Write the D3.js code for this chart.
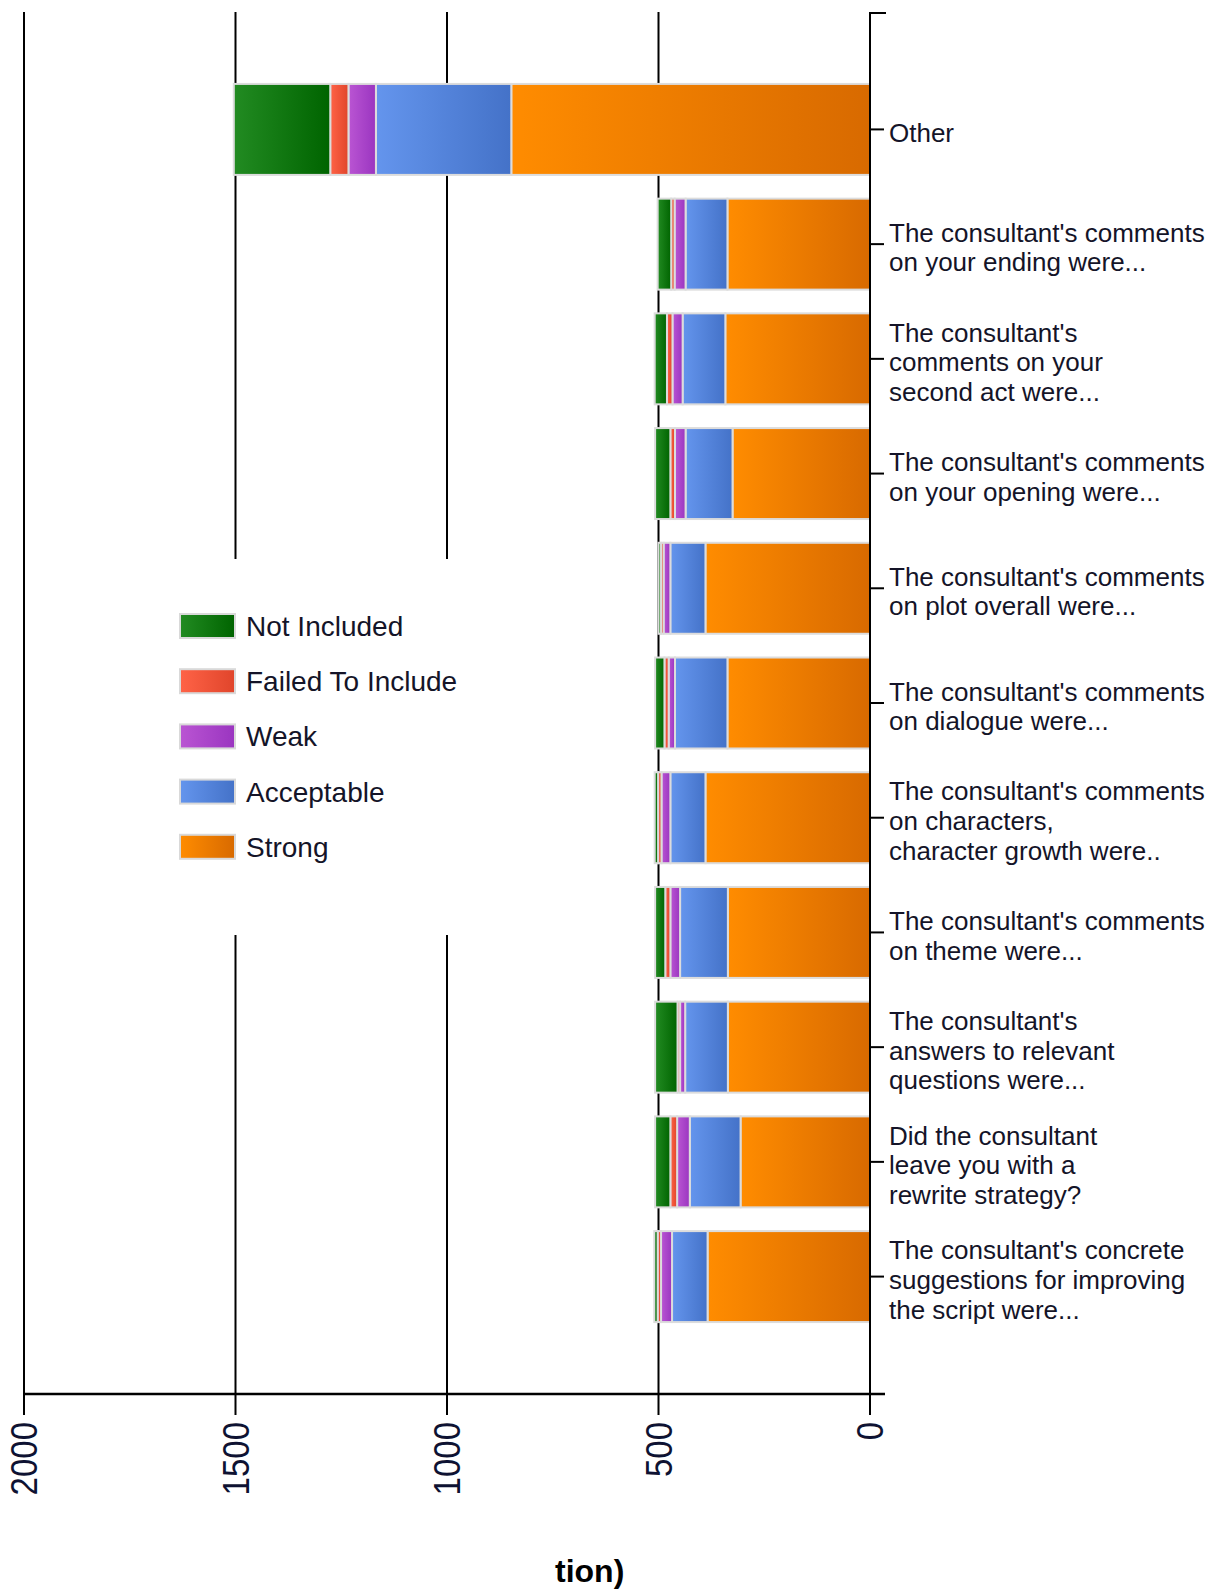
<!DOCTYPE html>
<html>
<head>
<meta charset="utf-8">
<script src="https://d3js.org/d3.v7.min.js"></script>
<style>
  html, body { margin: 0; padding: 0; background: #fff; overflow: hidden; }
  svg { display: block; }
</style>
</head>
<body>
<svg id="chart" width="1215" height="1592"></svg>
<script>
// Question labels, one entry per bar, split into the lines they wrap to
const labelLines = [
  ["Other"],
  ["The consultant's comments", "on your ending were..."],
  ["The consultant's", "comments on your", "second act were..."],
  ["The consultant's comments", "on your opening were..."],
  ["The consultant's comments", "on plot overall were..."],
  ["The consultant's comments", "on dialogue were..."],
  ["The consultant's comments", "on characters,", "character growth were.."],
  ["The consultant's comments", "on theme were..."],
  ["The consultant's", "answers to relevant", "questions were..."],
  ["Did the consultant", "leave you with a", "rewrite strategy?"],
  ["The consultant's concrete", "suggestions for improving", "the script were..."]
];
const categories = labelLines.map(l => l.join(" "));

// Response counts per rating
const seriesNames = ["Not Included", "Failed To Include", "Weak", "Acceptable", "Strong"];
const notIncluded = [228, 32, 29, 36, 6, 22, 8, 24, 53, 36, 8];
const failedToInclude = [43, 8, 13, 11, 6, 10, 8, 12, 6, 16, 8];
const weak = [65, 26, 24, 25, 16, 15, 21, 23, 12, 30, 26];
const acceptable = [320, 99, 101, 111, 83, 124, 83, 113, 101, 120, 84];
const strong = [848, 337, 342, 325, 389, 337, 389, 336, 336, 306, 384];

const xTickValues = [0, 500, 1000, 1500, 2000];
const titleTail = "tion)";

// Gradient stops (light -> dark) for each rating
const seriesColors = {
  "Not Included": ["#228B22", "#006400"],
  "Failed To Include": ["#FF6347", "#E0452B"],
  "Weak": ["#BA55D3", "#9A35C0"],
  "Acceptable": ["#6495ED", "#4472C8"],
  "Strong": ["#FF8C00", "#D86A00"]
};

const rows = categories.map((c, i) => ({
  category: c,
  "Not Included": notIncluded[i],
  "Failed To Include": failedToInclude[i],
  "Weak": weak[i],
  "Acceptable": acceptable[i],
  "Strong": strong[i]
}));

const svg = d3.select("#chart");
const axisX = 870, plotLeft = 24, plotTop = 12, plotBottom = 1394;

const x = d3.scaleLinear().domain([0, 2000]).range([axisX, plotLeft]);
const y = d3.scaleBand().domain(categories).range([plotTop, plotBottom])
  .paddingInner(0.207).paddingOuter(0.627);

// gradients
const defs = svg.append("defs");
seriesNames.forEach((s, i) => {
  const g = defs.append("linearGradient").attr("id", "grad" + i)
    .attr("x1", 0).attr("x2", 1).attr("y1", 0).attr("y2", 0);
  g.append("stop").attr("offset", "0%").attr("stop-color", seriesColors[s][0]);
  g.append("stop").attr("offset", "100%").attr("stop-color", seriesColors[s][1]);
});

// vertical grid lines with ticks below the axis
svg.append("g").selectAll("line").data(xTickValues).join("line")
  .attr("x1", d => x(d)).attr("x2", d => x(d))
  .attr("y1", plotTop).attr("y2", plotBottom + 21)
  .attr("stroke", "#000").attr("stroke-width", 2);

// legend panel (drawn over the grid)
const legend = svg.append("g");
legend.append("rect").attr("x", 160).attr("y", 559).attr("width", 320).attr("height", 376)
  .attr("fill", "#fff");
seriesNames.forEach((s, i) => {
  const cy = 626 + i * 55.2;
  legend.append("rect").attr("x", 180).attr("y", cy - 12).attr("width", 55).attr("height", 24)
    .attr("fill", `url(#grad${i})`).attr("stroke", "#d9d9d9").attr("stroke-width", 2);
  legend.append("text").attr("x", 246).attr("y", cy).attr("dy", "0.36em")
    .attr("font-family", "'Liberation Sans', Arial, sans-serif").attr("font-size", 28)
    .attr("fill", "#141428").text(s);
});

// stacked bars, growing leftwards from zero
const stackKeys = ["Strong", "Acceptable", "Weak", "Failed To Include", "Not Included"];
const stacked = d3.stack().keys(stackKeys)(rows);
svg.append("g").selectAll("g").data(stacked).join("g")
  .attr("fill", d => `url(#grad${seriesNames.indexOf(d.key)})`)
  .selectAll("rect").data(d => d).join("rect")
  .attr("x", d => x(d[1]))
  .attr("width", d => x(d[0]) - x(d[1]))
  .attr("y", d => y(d.data.category))
  .attr("height", y.bandwidth())
  .attr("stroke", "#dcdcdc").attr("stroke-width", 2);

// axes lines
svg.append("line").attr("x1", axisX).attr("x2", axisX).attr("y1", plotTop).attr("y2", plotBottom)
  .attr("stroke", "#000").attr("stroke-width", 2);
svg.append("line").attr("x1", axisX - 1).attr("x2", axisX + 16).attr("y1", plotTop + 1).attr("y2", plotTop + 1)
  .attr("stroke", "#000").attr("stroke-width", 2);
svg.append("line").attr("x1", plotLeft).attr("x2", axisX + 15).attr("y1", plotBottom).attr("y2", plotBottom)
  .attr("stroke", "#000").attr("stroke-width", 2.5);

// category ticks and labels
const cats = svg.append("g");
cats.selectAll("line").data(categories).join("line")
  .attr("x1", axisX).attr("x2", axisX + 14)
  .attr("y1", d => y(d) + y.bandwidth() / 2).attr("y2", d => y(d) + y.bandwidth() / 2)
  .attr("stroke", "#000").attr("stroke-width", 2);
const lineGap = 29.6;
labelLines.forEach((lines, i) => {
  const cy = y(categories[i]) + y.bandwidth() / 2 + 3;
  const t = cats.append("text")
    .attr("font-family", "'Liberation Sans', Arial, sans-serif").attr("font-size", 26)
    .attr("fill", "#141428");
  lines.forEach((ln, j) => {
    t.append("tspan").attr("x", 889)
      .attr("y", cy + (j - (lines.length - 1) / 2) * lineGap)
      .attr("dy", "0.36em").text(ln);
  });
});

// rotated value labels under the axis
svg.append("g").selectAll("text").data(xTickValues).join("text")
  .attr("transform", d => `translate(${x(d)},1422) rotate(-90) scale(1,1.12)`)
  .attr("text-anchor", "end").attr("dy", "0.36em")
  .attr("font-family", "'Liberation Sans', Arial, sans-serif").attr("font-size", 33)
  .attr("fill", "#0e1232")
  .text(d => d);

// tail of the axis title
svg.append("text").attr("x", 555).attr("y", 1582)
  .attr("font-family", "'Liberation Sans', Arial, sans-serif").attr("font-size", 32)
  .attr("font-weight", "bold").attr("fill", "#000").text(titleTail);
</script>
</body>
</html>
